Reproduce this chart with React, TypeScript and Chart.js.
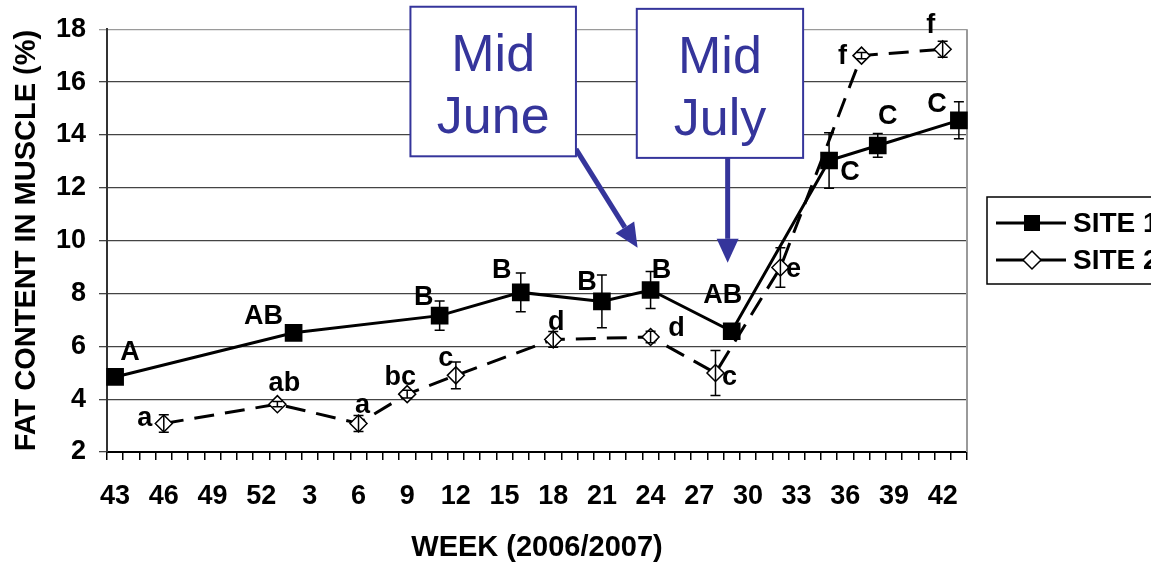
import React, { useEffect, useRef } from "react";
import { Chart, registerables } from "chart.js";

Chart.register(...registerables);

// Category axis: one category per week, week 43 (2006) to week 43 (2007)
const WEEK_LABELS: string[] = [
  "43", "44", "45", "46", "47", "48", "49", "50", "51", "52",
  "1", "2", "3", "4", "5", "6", "7", "8", "9", "10",
  "11", "12", "13", "14", "15", "16", "17", "18", "19", "20",
  "21", "22", "23", "24", "25", "26", "27", "28", "29", "30",
  "31", "32", "33", "34", "35", "36", "37", "38", "39", "40",
  "41", "42", "43",
];
const LABEL_EVERY = 3;
const LAST_LABELED = 51;

const Y_TICKS = [2, 4, 6, 8, 10, 12, 14, 16, 18];

// SITE 1 (category index = week position on axis)
const SITE1_POS = [0, 11, 20, 25, 30, 33, 38, 44, 47, 52];
const SITE1_FAT = [4.84, 6.51, 7.16, 8.04, 7.7, 8.13, 6.57, 13.03, 13.6, 14.55];
const SITE1_ERR = [0.2, 0.22, 0.55, 0.73, 1.0, 0.7, 0.25, 1.05, 0.45, 0.7];
const SITE1_LETTERS = ["A", "AB", "B", "B", "B", "B", "AB", "C", "C", "C"];

// SITE 2
const SITE2_POS = [3, 10, 15, 18, 21, 27, 33, 37, 41, 46, 51];
const SITE2_FAT = [3.08, 3.81, 3.08, 4.19, 4.9, 6.26, 6.35, 4.99, 8.98, 17.0, 17.24];
const SITE2_ERR = [0.33, 0.1, 0.3, 0.15, 0.51, 0.3, 0.22, 0.85, 0.75, 0.12, 0.3];
const SITE2_LETTERS = ["a", "ab", "a", "bc", "c", "d", "d", "c", "e", "f", "f"];

// letter label offsets (px) relative to each point
const SITE1_LABEL_OFF = [[15, -24], [-30, -16], [-16, -18], [-19, -22], [-15, -19], [11, -19], [-9, -36], [21, 12], [10, -29], [-22, -16]];
const SITE2_LABEL_OFF = [[-19, -5], [7, -21], [4, -18], [-7, -17], [-10, -17], [3, -17], [26, -9], [14, 5], [13, 2], [-19, 1], [-12, -24]];

const FONT = "'Liberation Sans', Arial, Helvetica, sans-serif";
const NOTE_BLUE = "#35359b";

function dense(pos: number[], vals: number[]): (number | null)[] {
  return WEEK_LABELS.map((_, i) => {
    const k = pos.indexOf(i);
    return k >= 0 ? vals[k] : null;
  });
}

const overlayPlugin = {
  id: "overlay",
  beforeDatasetsDraw(chart: any) {
    const { ctx, chartArea } = chart;
    ctx.save();
    ctx.strokeStyle = "#9a9a9a";
    ctx.lineWidth = 2;
    ctx.beginPath();
    ctx.moveTo(chartArea.right, chartArea.top);
    ctx.lineTo(chartArea.right, chartArea.bottom);
    ctx.stroke();
    ctx.restore();
  },
  afterDatasetsDraw(chart: any) {
    const { ctx } = chart;
    const x = chart.scales.x;
    const y = chart.scales.y;
    ctx.save();
    // error bars
    ctx.strokeStyle = "#000";
    ctx.lineWidth = 1.5;
    const groups: [number[], number[], number[]][] = [
      [SITE1_POS, SITE1_FAT, SITE1_ERR],
      [SITE2_POS, SITE2_FAT, SITE2_ERR],
    ];
    groups.forEach(([pos, v, e]) => {
      pos.forEach((p, k) => {
        const px = x.getPixelForValue(p);
        const t = y.getPixelForValue(v[k] + e[k]);
        const b = y.getPixelForValue(v[k] - e[k]);
        ctx.beginPath();
        ctx.moveTo(px, t);
        ctx.lineTo(px, b);
        ctx.moveTo(px - 5, t);
        ctx.lineTo(px + 5, t);
        ctx.moveTo(px - 5, b);
        ctx.lineTo(px + 5, b);
        ctx.stroke();
      });
    });
    // significance letters
    ctx.fillStyle = "#000";
    ctx.font = `bold 27px ${FONT}`;
    ctx.textAlign = "center";
    ctx.textBaseline = "middle";
    SITE1_POS.forEach((p, k) => {
      const px = x.getPixelForValue(p);
      const py = y.getPixelForValue(SITE1_FAT[k]);
      ctx.fillText(SITE1_LETTERS[k], px + SITE1_LABEL_OFF[k][0], py + SITE1_LABEL_OFF[k][1]);
    });
    SITE2_POS.forEach((p, k) => {
      const px = x.getPixelForValue(p);
      const py = y.getPixelForValue(SITE2_FAT[k]);
      ctx.fillText(SITE2_LETTERS[k], px + SITE2_LABEL_OFF[k][0], py + SITE2_LABEL_OFF[k][1]);
    });
    ctx.restore();
  },
  afterDraw(chart: any) {
    const { ctx, chartArea } = chart;
    const x = chart.scales.x;
    const y = chart.scales.y;
    ctx.save();

    const arrow = (x0: number, y0: number, x1: number, y1: number) => {
      const ang = Math.atan2(y1 - y0, x1 - x0);
      const hl = 24;
      const hw = 11;
      const bx = x1 - hl * Math.cos(ang);
      const by = y1 - hl * Math.sin(ang);
      ctx.strokeStyle = NOTE_BLUE;
      ctx.fillStyle = NOTE_BLUE;
      ctx.lineWidth = 5;
      ctx.beginPath();
      ctx.moveTo(x0, y0);
      ctx.lineTo(bx, by);
      ctx.stroke();
      ctx.beginPath();
      ctx.moveTo(x1, y1);
      ctx.lineTo(bx + hw * Math.sin(ang), by - hw * Math.cos(ang));
      ctx.lineTo(bx - hw * Math.sin(ang), by + hw * Math.cos(ang));
      ctx.closePath();
      ctx.fill();
    };

    const note = (x0: number, x1: number, v0: number, v1: number, l1: string, l2: string) => {
      const L = x.getPixelForValue(x0);
      const R = x.getPixelForValue(x1);
      const T = y.getPixelForValue(v0);
      const B = y.getPixelForValue(v1);
      ctx.fillStyle = "#fff";
      ctx.fillRect(L, T, R - L, B - T);
      ctx.strokeStyle = NOTE_BLUE;
      ctx.lineWidth = 2;
      ctx.strokeRect(L, T, R - L, B - T);
      ctx.fillStyle = NOTE_BLUE;
      ctx.font = `52px ${FONT}`;
      ctx.textAlign = "center";
      ctx.textBaseline = "alphabetic";
      const cx = (L + R) / 2;
      ctx.fillText(l1, cx, T + 64);
      ctx.fillText(l2, cx, T + 126);
    };

    // Mid June
    arrow(x.getPixelForValue(28.4), y.getPixelForValue(13.46), x.getPixelForValue(32.2), y.getPixelForValue(9.73));
    note(18.2, 28.4, 18.85, 13.19, "Mid", "June");
    // Mid July
    arrow(x.getPixelForValue(37.75), y.getPixelForValue(13.13), x.getPixelForValue(37.75), y.getPixelForValue(9.16));
    note(32.15, 42.4, 18.77, 13.13, "Mid", "July");

    // legend
    const lx = chartArea.right + 20;
    const ly = 197;
    ctx.strokeStyle = "#000";
    ctx.lineWidth = 1.5;
    ctx.strokeRect(lx, ly, 260, 87);
    const rows = [
      { yy: ly + 26, label: "SITE 1", square: true },
      { yy: ly + 63, label: "SITE 2", square: false },
    ];
    rows.forEach((r) => {
      ctx.strokeStyle = "#000";
      ctx.lineWidth = 3;
      ctx.beginPath();
      ctx.moveTo(lx + 9, r.yy);
      ctx.lineTo(lx + 79, r.yy);
      ctx.stroke();
      const cx = lx + 45;
      if (r.square) {
        ctx.fillStyle = "#000";
        ctx.fillRect(cx - 8, r.yy - 8, 16, 16);
      } else {
        ctx.fillStyle = "#fff";
        ctx.lineWidth = 1.5;
        ctx.beginPath();
        ctx.moveTo(cx, r.yy - 9);
        ctx.lineTo(cx + 9, r.yy);
        ctx.lineTo(cx, r.yy + 9);
        ctx.lineTo(cx - 9, r.yy);
        ctx.closePath();
        ctx.fill();
        ctx.stroke();
      }
      ctx.fillStyle = "#000";
      ctx.font = `bold 28px ${FONT}`;
      ctx.textAlign = "left";
      ctx.textBaseline = "middle";
      ctx.fillText(r.label, lx + 86, r.yy + 1);
    });
    ctx.restore();
  },
};

export default function App() {
  const ref = useRef<HTMLCanvasElement | null>(null);

  useEffect(() => {
    document.body.style.margin = "0";
    const canvas = ref.current;
    if (!canvas) return;
    const chart = new Chart(canvas, {
      type: "line",
      data: {
        labels: WEEK_LABELS,
        datasets: [
          {
            label: "SITE 1",
            data: dense(SITE1_POS, SITE1_FAT),
            borderColor: "#000",
            backgroundColor: "#000",
            borderWidth: 3,
            pointStyle: "rect",
            pointRadius: 12.5,
            pointBorderWidth: 0,
            pointBackgroundColor: "#000",
            spanGaps: true,
          },
          {
            label: "SITE 2",
            data: dense(SITE2_POS, SITE2_FAT),
            borderColor: "#000",
            backgroundColor: "#fff",
            borderWidth: 3,
            borderDash: [20, 11],
            pointStyle: "rectRot",
            pointRadius: 8.5,
            pointBorderWidth: 1.5,
            pointBorderColor: "#000",
            pointBackgroundColor: "#fff",
            spanGaps: true,
          },
        ],
      },
      options: {
        animation: false,
        responsive: false,
        devicePixelRatio: 1,
        layout: { padding: { left: 0, right: 184, top: 27, bottom: 0 } },
        plugins: { legend: { display: false }, tooltip: { enabled: false } },
        scales: {
          x: {
            type: "category",
            offset: true,
            grid: { offset: true, drawOnChartArea: false, tickLength: 8, color: "#000", lineWidth: 1.5 },
            border: { color: "#000", width: 2 },
            ticks: {
              autoSkip: false,
              maxRotation: 0,
              minRotation: 0,
              padding: 20,
              color: "#000",
              font: { family: FONT, size: 27, weight: "bold" },
              callback: (_v: any, i: number) =>
                i % LABEL_EVERY === 0 && i <= LAST_LABELED ? WEEK_LABELS[i] : "",
            },
            title: {
              display: true,
              text: "WEEK (2006/2007)",
              color: "#000",
              font: { family: FONT, size: 29, weight: "bold" },
              padding: { top: 0, bottom: 3 },
            },
            afterFit: (s: any) => {
              s.height = 116;
            },
          },
          y: {
            min: 2,
            max: 18,
            afterBuildTicks: (s: any) => {
              s.ticks = Y_TICKS.map((v) => ({ value: v }));
            },
            grid: {
              tickLength: 8,
              color: (c: any) => (c.tick && c.tick.value === 18 ? "#9a9a9a" : "#444"),
              lineWidth: 1.3,
            },
            border: { color: "#333", width: 2 },
            ticks: {
              padding: 13,
              color: "#000",
              font: { family: FONT, size: 27, weight: "bold" },
            },
            title: {
              display: true,
              text: "FAT CONTENT IN MUSCLE (%)",
              color: "#000",
              font: { family: FONT, size: 29, weight: "bold" },
              padding: { top: 10, bottom: 0 },
            },
            afterFit: (s: any) => {
              s.width = 107;
            },
          },
        },
      },
      plugins: [overlayPlugin],
    } as any);
    return () => chart.destroy();
  }, []);

  return (
    <div style={{ width: 1151, height: 568, position: "relative" }}>
      <canvas ref={ref} width={1151} height={568} style={{ display: "block" }} />
    </div>
  );
}
